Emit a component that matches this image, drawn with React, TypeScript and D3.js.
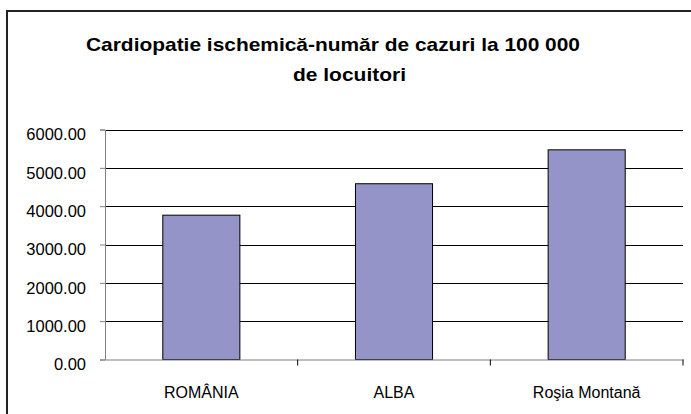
import { useEffect, useRef } from 'react'
import * as d3 from 'd3'

const categories = ['ROMÂNIA', 'ALBA', 'Roşia Montană']
const cases = [3765, 4585, 5470]
const yTicks = [0, 1000, 2000, 3000, 4000, 5000, 6000]
const titleLines = ['Cardiopatie ischemică-număr de cazuri la 100 000', 'de locuitori']

export default function App() {
  const svgRef = useRef<SVGSVGElement>(null)

  useEffect(() => {
    if (!svgRef.current) return
    const svg = d3.select(svgRef.current)
    svg.selectAll('*').remove()

    const W = 691
    const H = 414
    const plot = { left: 105, right: 683, top: 129.5, bottom: 359.5 }

    svg.attr('width', W).attr('height', H)

    // outer chart border (cropped on the right and bottom)
    svg.append('rect')
      .attr('x', 7).attr('y', 11)
      .attr('width', W + 20).attr('height', H + 20)
      .attr('fill', 'white')
      .attr('stroke', '#222')
      .attr('stroke-width', 2)

    const title = svg.append('g')
      .style('font-family', 'Arial, "Liberation Sans", sans-serif')
      .style('font-weight', 'bold')
      .style('font-size', '19px')
      .attr('fill', '#000')
    title.append('text').attr('x', 86).attr('y', 51)
      .attr('textLength', 494).attr('lengthAdjust', 'spacingAndGlyphs')
      .text(titleLines[0])
    title.append('text').attr('x', 293).attr('y', 81)
      .attr('textLength', 113).attr('lengthAdjust', 'spacingAndGlyphs')
      .text(titleLines[1])

    const x = d3.scaleBand<string>()
      .domain(categories)
      .range([plot.left, plot.right])
      .padding(0)

    const y = d3.scaleLinear()
      .domain([0, 6000])
      .range([plot.bottom, plot.top])

    // gridlines
    svg.append('g')
      .selectAll('line')
      .data(yTicks.filter(d => d > 0))
      .enter().append('line')
      .attr('x1', plot.left).attr('x2', plot.right)
      .attr('y1', d => Math.round(y(d)) + 0.5)
      .attr('y2', d => Math.round(y(d)) + 0.5)
      .attr('stroke', '#000')
      .attr('stroke-width', 1)

    // bars
    const barW = x.bandwidth() * 0.4
    svg.append('g')
      .selectAll('rect')
      .data(cases)
      .enter().append('rect')
      .attr('x', (d, i) => x(categories[i])! + (x.bandwidth() - barW) / 2)
      .attr('y', d => y(d))
      .attr('width', barW)
      .attr('height', d => y(0) - y(d))
      .attr('fill', '#9494c8')
      .attr('stroke', '#000')
      .attr('stroke-width', 1)

    // y axis
    const yAxis = svg.append('g')
      .attr('transform', `translate(${plot.left},0)`)
      .call(d3.axisLeft(y).tickValues(yTicks).tickSize(5).tickPadding(14).tickFormat(d3.format('.2f')))
    yAxis.select('.domain').attr('stroke', '#808080')
    yAxis.selectAll('.tick line').attr('stroke', '#808080')
    yAxis.selectAll('text')
      .attr('fill', '#000')
      .attr('dy', '0.62em')
      .style('font-family', 'Arial, "Liberation Sans", sans-serif')
      .style('font-size', '16.5px')

    // x axis with ticks at band boundaries
    const xAxis = svg.append('g')
      .attr('transform', `translate(0,${plot.bottom})`)
      .call(d3.axisBottom(x).tickSize(0).tickPadding(27))
    xAxis.select('.domain').attr('stroke', '#808080')
    xAxis.selectAll('text')
      .attr('fill', '#000')
      .style('font-family', 'Arial, "Liberation Sans", sans-serif')
      .style('font-size', '16px')

    svg.append('g')
      .selectAll('line')
      .data(categories)
      .enter().append('line')
      .attr('x1', d => x(d)! + x.bandwidth())
      .attr('x2', d => x(d)! + x.bandwidth())
      .attr('y1', plot.bottom)
      .attr('y2', plot.bottom + 6)
      .attr('stroke', '#000')
  }, [])

  return (
    <svg ref={svgRef} style={{ position: 'absolute', left: 0, top: 0, display: 'block', background: 'white' }}></svg>
  )
}
